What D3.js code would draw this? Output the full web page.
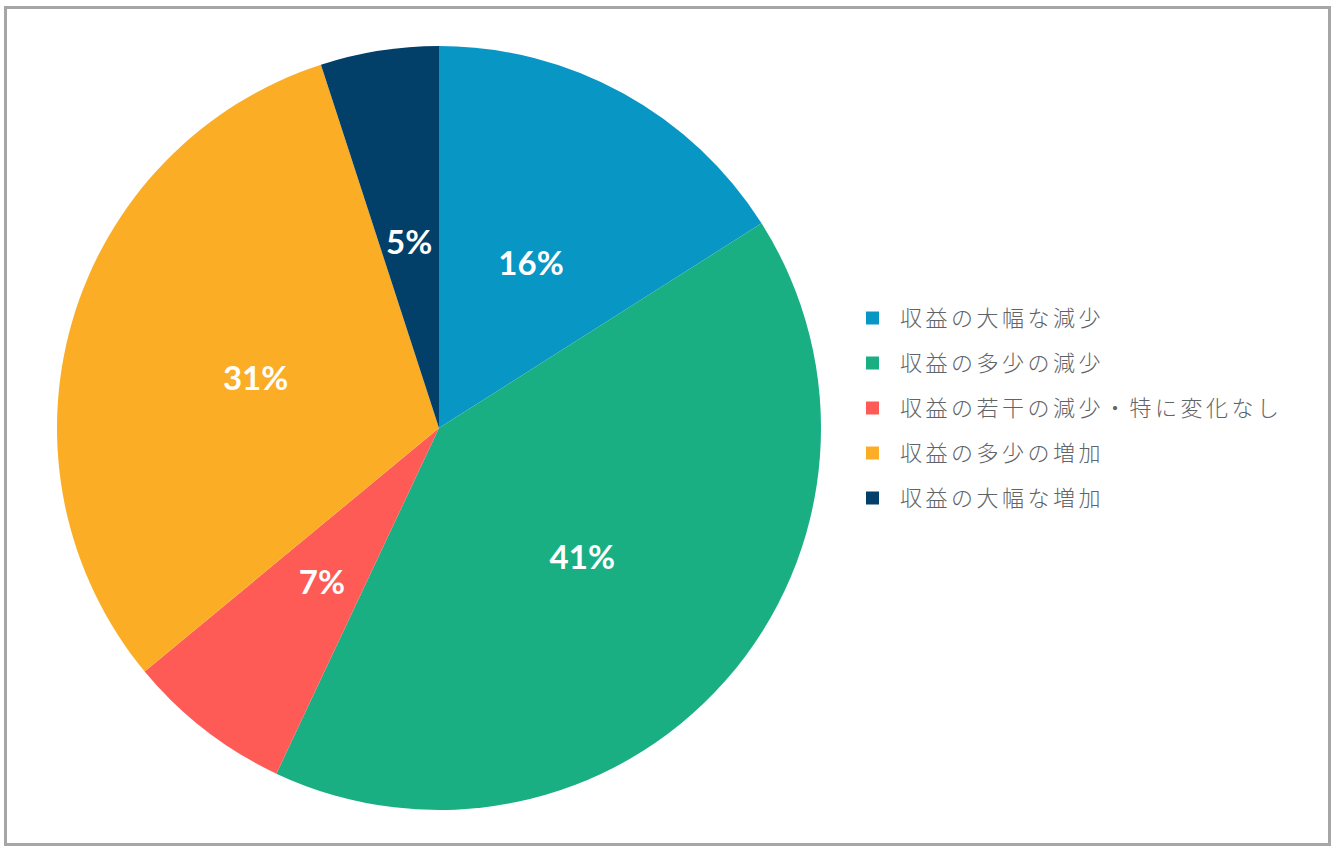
<!DOCTYPE html>
<html><head><meta charset="utf-8">
<script src="https://cdn.jsdelivr.net/npm/d3@7"></script>
<style>html,body{margin:0;padding:0;background:#fff;}</style>
</head><body>
<svg id="chart" width="1335" height="853"></svg>
<script>
const categories = ["収益の大幅な減少","収益の多少の減少","収益の若干の減少・特に変化なし","収益の多少の増加","収益の大幅な増加"];
const values = [16, 41, 7, 31, 5];
const colors = ["#0896c5","#1aaf83","#fe5a56","#fbae25","#023f69"];

const svg = d3.select("#chart");
svg.append("rect").attr("x",5.5).attr("y",7.5).attr("width",1324).attr("height",837)
  .attr("fill","#fff").attr("stroke","#a6a6a6").attr("stroke-width",3);

const cx = 439, cy = 428, r = 382;
const g = svg.append("g").attr("transform",`translate(${cx},${cy})`);
const pie = d3.pie().sort(null).value(d=>d);
const arcs = pie(values);
const arc = d3.arc().innerRadius(0).outerRadius(r);
const labelArc = d3.arc().innerRadius(r*0.5).outerRadius(r*0.5);
const color = d3.scaleOrdinal().domain(categories).range(colors);

g.selectAll("path").data(arcs).enter().append("path")
  .attr("d",arc).attr("fill",(d,i)=>color(categories[i]));

g.selectAll("text").data(arcs).enter().append("text")
  .attr("transform",d=>`translate(${labelArc.centroid(d)})`)
  .attr("text-anchor","middle").attr("dy","0.45em")
  .attr("fill","#fff").attr("font-family","Lato, 'DejaVu Sans', sans-serif")
  .attr("font-weight","bold").attr("font-size","33px")
  .text(d=>d.data+"%");

const y = d3.scalePoint().domain(categories).range([318,498]);
const lg = svg.append("g");
const items = lg.selectAll("g").data(categories).enter().append("g")
  .attr("transform",d=>`translate(866,${y(d)})`);
items.append("rect").attr("x",0).attr("y",-6.5).attr("width",13).attr("height",13)
  .attr("fill",d=>color(d));
items.append("text").attr("x",34).attr("dy","0.36em")
  .attr("font-family","'Noto Sans CJK JP', sans-serif").attr("font-size","22px")
  .attr("font-weight","300").attr("letter-spacing","3.5px")
  .attr("fill","#5f6468").text(d=>d);
</script>
</body></html>
